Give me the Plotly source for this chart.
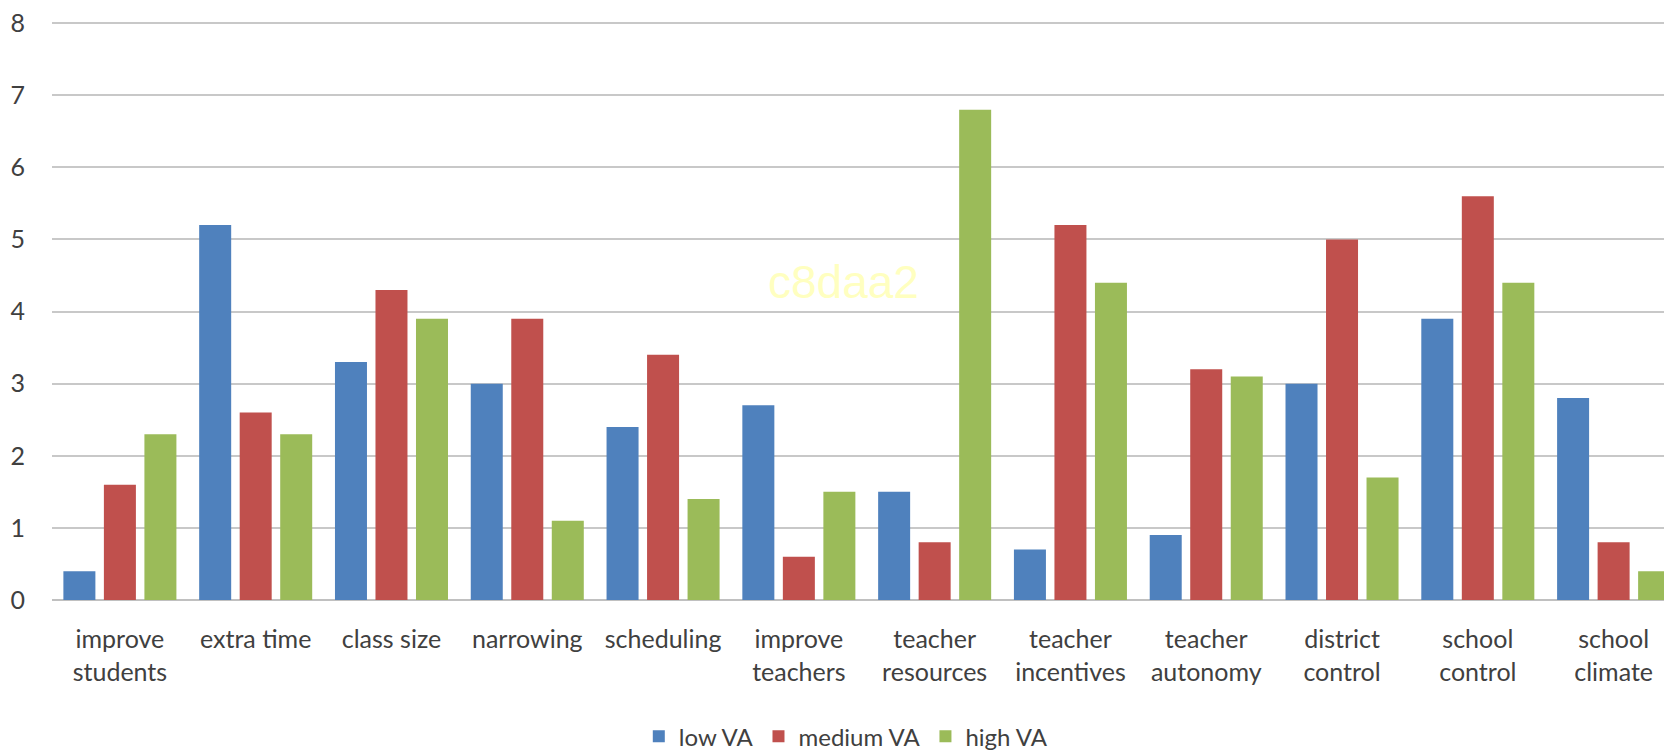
import plotly.graph_objects as go

categories = ["improve<br>students", "extra time", "class size", "narrowing", "scheduling",
              "improve<br>teachers", "teacher<br>resources", "teacher<br>incentives",
              "teacher<br>autonomy", "district<br>control", "school<br>control", "school<br>climate"]
low_va = [0.4, 5.2, 3.3, 3.0, 2.4, 2.7, 1.5, 0.7, 0.9, 3.0, 3.9, 2.8]
medium_va = [1.6, 2.6, 4.3, 3.9, 3.4, 0.6, 0.8, 5.2, 3.2, 5.0, 5.6, 0.8]
high_va = [2.3, 2.3, 3.9, 1.1, 1.4, 1.5, 6.8, 4.4, 3.1, 1.7, 4.4, 0.4]
y_ticks = [0, 1, 2, 3, 4, 5, 6, 7, 8]

series = [("low VA", low_va, "#4F81BD"), ("medium VA", medium_va, "#C0504D"), ("high VA", high_va, "#9BBB59")]

fig = go.Figure()
for name, vals, col in series:
    fig.add_trace(go.Bar(x=list(range(len(categories))), y=vals, name=name,
                         marker=dict(color=col, line=dict(width=0))))

fig.update_layout(
    width=1664, height=743,
    margin=dict(l=44, r=0, t=13, b=151, autoexpand=False),
    paper_bgcolor="white", plot_bgcolor="white",
    barmode="group", bargap=0.105, bargroupgap=0.21,
    font=dict(family="Lato, Carlito, sans-serif", size=25, color="#404040"),
    showlegend=True,
    legend=dict(orientation="h", x=0.49, xanchor="center", y=-0.236, yanchor="middle",
                font=dict(size=24, color="#404040"), traceorder="normal", itemwidth=30),
    xaxis=dict(range=[-0.5, 11.43], tickmode="array", tickvals=list(range(len(categories))),
               ticktext=categories, showgrid=False, zeroline=False, showline=False,
               ticks="", ticklabelstandoff=22, automargin=False, ticklabeloverflow="allow"),
    yaxis=dict(range=[0, 8.03], tickvals=y_ticks, showgrid=True, gridcolor="#C8C8C8", gridwidth=1.5,
               zeroline=True, zerolinecolor="#C0C0C0", zerolinewidth=1.5, showline=False,
               ticks="", ticklabelstandoff=26, automargin=False, ticklabeloverflow="allow"),
    annotations=[dict(text="c8daa2", x=0.4885, y=0.549, xref="paper", yref="paper",
                      showarrow=False, font=dict(family="Liberation Sans, Arial", size=46, color="#FFFFC0"))],
)

fig.write_html("out.html")
